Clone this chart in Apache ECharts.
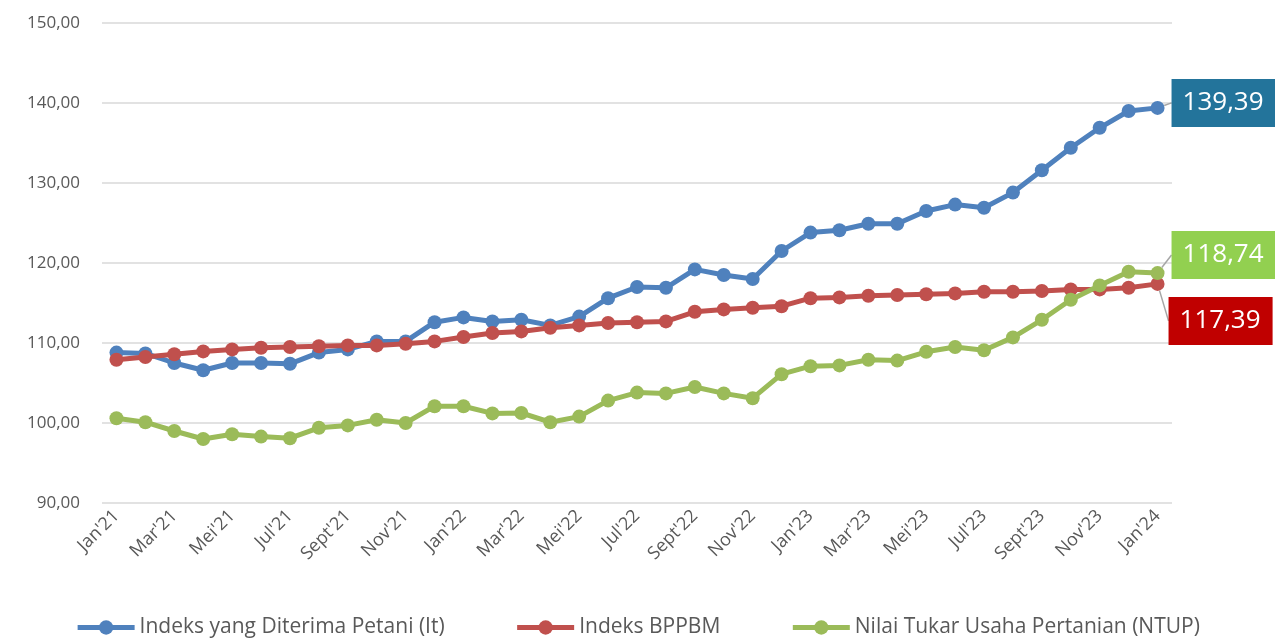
<!DOCTYPE html>
<html>
<head>
<meta charset="utf-8">
<script src="https://cdn.jsdelivr.net/npm/echarts@6/dist/echarts.min.js"></script>
<style>
  html, body { margin: 0; padding: 0; background: #fff; }
  #chart { width: 1275px; height: 643px; }
</style>
</head>
<body>
<div id="chart"></div>
<script>
// bulan Jan'21 - Jan'24
const months = ['Jan', 'Feb', 'Mar', 'Apr', 'Mei', 'Jun', 'Jul', 'Agust', 'Sept', 'Okt', 'Nov', 'Des'];
const categories = [];
for (let y = 21; y <= 24; y++) {
  for (let m = 0; m < 12; m++) {
    if (y === 24 && m > 0) break;
    categories.push(months[m] + "'" + y);
  }
}

const seriesNames = ['Indeks yang Diterima Petani (It)', 'Indeks BPPBM', 'Nilai Tukar Usaha Pertanian (NTUP)'];

const itValues = [108.8, 108.7, 107.5, 106.6, 107.5, 107.5, 107.4, 108.8, 109.2, 110.2, 110.2, 112.6,
  113.2, 112.7, 112.9, 112.2, 113.3, 115.6, 117.0, 116.9, 119.2, 118.5, 118.0, 121.5,
  123.8, 124.1, 124.9, 124.9, 126.5, 127.3, 126.9, 128.8, 131.6, 134.4, 136.9, 139.0, 139.39];

const bppbmValues = [107.9, 108.25, 108.6, 108.95, 109.2, 109.4, 109.5, 109.6, 109.7, 109.7, 109.9, 110.2,
  110.75, 111.25, 111.45, 111.9, 112.2, 112.5, 112.6, 112.7, 113.9, 114.2, 114.4, 114.6,
  115.6, 115.7, 115.9, 116.0, 116.1, 116.2, 116.4, 116.4, 116.5, 116.7, 116.7, 116.9, 117.39];

const ntupValues = [100.6, 100.1, 99.0, 98.0, 98.6, 98.3, 98.1, 99.4, 99.7, 100.4, 100.0, 102.1,
  102.1, 101.2, 101.25, 100.1, 100.8, 102.8, 103.8, 103.7, 104.5, 103.7, 103.1, 106.1,
  107.1, 107.2, 107.9, 107.8, 108.9, 109.5, 109.1, 110.7, 112.9, 115.4, 117.2, 118.9, 118.74];

const colors = ['#4f81bd', '#c0504d', '#9bbb59'];
const labelBg = ['#23749b', '#c00000', '#92d050'];
const labelShift = [[0, -5], [-3, 37], [0, -18]];

const fmt = v => Number(v).toFixed(2).replace('.', ',');
const FONT = 'Open Sans';

const myChart = echarts.init(document.getElementById('chart'));

const makeSeries = (idx, values) => {
  const last = values.length - 1;
  return {
    name: seriesNames[idx],
    type: 'line',
    data: values.map((v, i) => i === last ? {
      value: v,
      label: {
        show: true,
        position: 'right',
        distance: 7,
        formatter: p => fmt(p.value),
        color: '#fff',
        fontFamily: FONT,
        fontSize: 26,
        lineHeight: 32,
        backgroundColor: labelBg[idx],
        padding: [8, 12, 8, 11]
      }
    } : v),
    symbol: 'circle',
    symbolSize: 14,
    lineStyle: { width: 5, color: colors[idx] },
    itemStyle: { color: colors[idx] },
    label: { show: false },
    labelLine: { show: true, lineStyle: { color: '#a6a6a6', width: 1.5 } },
    labelLayout: p => p.dataIndex === last ? { dx: labelShift[idx][0], dy: labelShift[idx][1] } : {},
    emphasis: { disabled: true },
    animation: false,
    z: 2 + idx
  };
};

const option = {
  animation: false,
  grid: { left: 102, right: 103, top: 23, bottom: 140, containLabel: false },
  legend: {
    bottom: 0,
    left: 'center',
    itemWidth: 57,
    itemHeight: 18,
    itemGap: 70,
    lineStyle: { width: 5 },
    textStyle: { fontFamily: FONT, fontSize: 21, color: '#595959' },
    data: seriesNames
  },
  xAxis: {
    type: 'category',
    data: categories,
    boundaryGap: true,
    axisLine: { show: false },
    axisTick: { show: false },
    axisLabel: {
      interval: 1,
      rotate: 45,
      margin: 10,
      fontFamily: FONT,
      fontSize: 18,
      color: '#595959'
    }
  },
  yAxis: {
    type: 'value',
    min: 90,
    max: 150,
    interval: 10,
    axisLine: { show: false },
    axisTick: { show: false },
    splitLine: { lineStyle: { color: '#d9d9d9', width: 1.5 } },
    axisLabel: {
      formatter: v => fmt(v),
      margin: 22,
      fontFamily: FONT,
      fontSize: 17,
      color: '#595959'
    }
  },
  series: [
    makeSeries(0, itValues),
    makeSeries(1, bppbmValues),
    makeSeries(2, ntupValues)
  ]
};

myChart.setOption(option);
</script>
</body>
</html>
